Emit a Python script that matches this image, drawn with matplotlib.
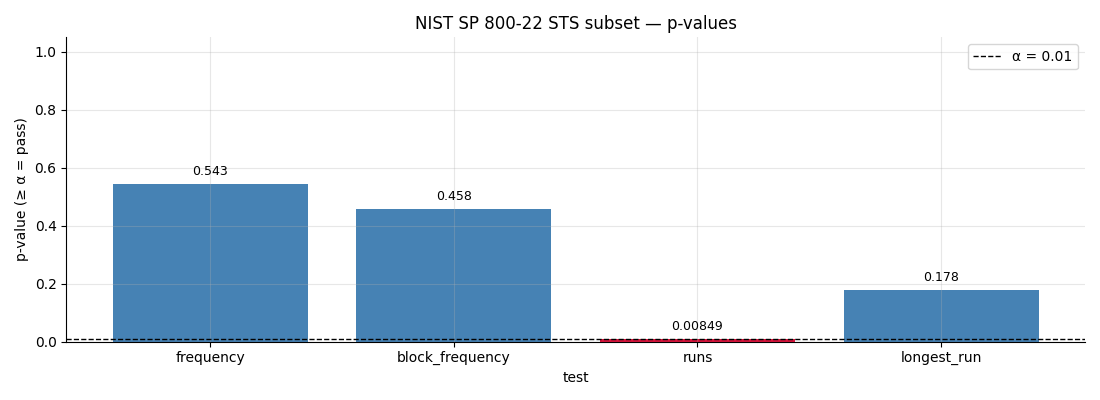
import numpy as np
import matplotlib.pyplot as plt

tests = ["frequency", "block_frequency", "runs", "longest_run"]
p_values = [0.543, 0.458, 0.00849, 0.178]
alpha = 0.01

colors = ["steelblue" if p >= alpha else "crimson" for p in p_values]

fig, ax = plt.subplots(figsize=(11, 4), dpi=100)
bars = ax.bar(tests, p_values, color=colors, width=0.8)
ax.axhline(alpha, color="black", linestyle="--", linewidth=1, label=f"α = {alpha}")
labels = [f"{p:.3g}" for p in p_values]
ax.bar_label(bars, labels=labels, padding=4.5, fontsize=9)

ax.set_ylim(0, 1.05)
ax.set_xlabel("test")
ax.set_ylabel("p-value (≥ α = pass)")
ax.set_title("NIST SP 800-22 STS subset — p-values")
ax.grid(True, alpha=0.3)
ax.spines["top"].set_visible(False)
ax.spines["right"].set_visible(False)
ax.legend(loc="upper right")

fig.tight_layout()
fig.savefig("out.png")
